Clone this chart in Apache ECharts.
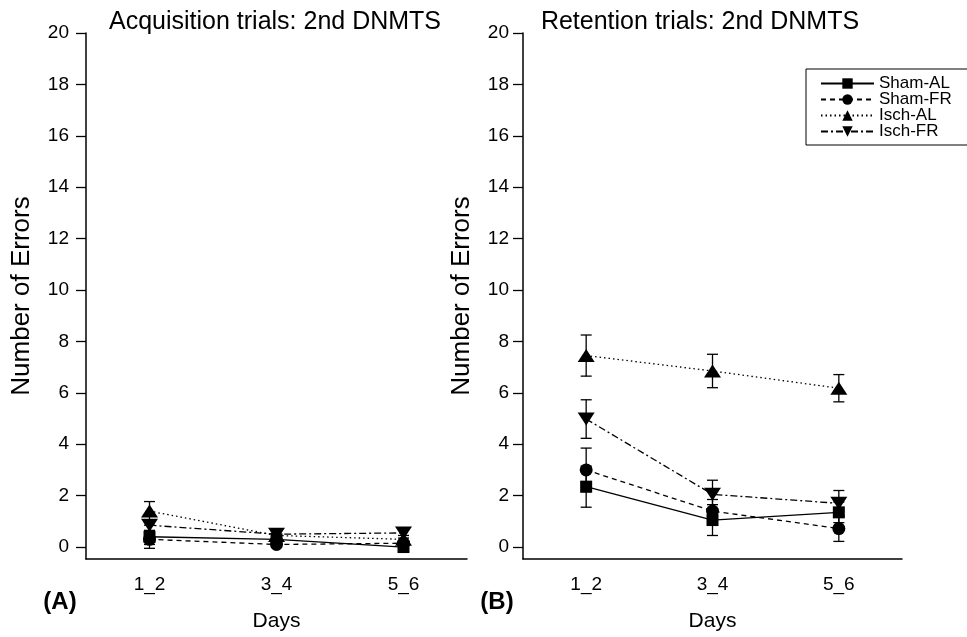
<!DOCTYPE html>
<html>
<head>
<meta charset="utf-8">
<script src="https://cdn.jsdelivr.net/npm/echarts@6/dist/echarts.min.js"></script>
<style>
  html, body { margin: 0; padding: 0; background: #fff; }
  #chart { width: 967px; height: 637px; }
</style>
</head>
<body>
<div id="chart"></div>
<script>
// Categories and tick labels
const days = ['1_2', '3_4', '5_6'];
const yTicks = [0, 2, 4, 6, 8, 10, 12, 14, 16, 18, 20];
const groupNames = ['Sham-AL', 'Sham-FR', 'Isch-AL', 'Isch-FR'];

// Acquisition trials: mean errors and error-bar half widths
const acqShamAL = [0.4, 0.3, 0.0];
const acqShamFR = [0.3, 0.1, 0.15];
const acqIschAL = [1.4, 0.45, 0.3];
const acqIschFR = [0.85, 0.5, 0.55];
const acqShamALErr = [0.45, 0.15, 0.1];
const acqShamFRErr = [0.2, 0.1, 0.1];
const acqIschALErr = [0.37, 0.15, 0.15];
const acqIschFRErr = [0.2, 0.15, 0.2];

// Retention trials: mean errors and error-bar half widths
const retShamAL = [2.35, 1.05, 1.35];
const retShamFR = [3.0, 1.4, 0.72];
const retIschAL = [7.45, 6.85, 6.18];
const retIschFR = [4.98, 2.05, 1.7];
const retShamALErr = [0.8, 0.6, 0.4];
const retShamFRErr = [0.85, 0.45, 0.5];
const retIschALErr = [0.8, 0.65, 0.53];
const retIschFRErr = [0.75, 0.55, 0.5];

const FONT = 'Liberation Sans, Arial, sans-serif';
const INK = '#000';

// Marker and line style per group
const groupStyle = [
  { symbol: 'rect', size: 12, dash: 'solid' },
  { symbol: 'circle', size: 13, dash: [5, 4] },
  { symbol: 'path://M0,13L8.5,0L17,13Z', size: [17, 13], dash: [1.5, 3] },
  { symbol: 'path://M0,0L17,0L8.5,13Z', size: [17, 13], dash: [7, 3, 2, 3] }
];

const acqMeans = [acqShamAL, acqShamFR, acqIschAL, acqIschFR];
const acqErrs = [acqShamALErr, acqShamFRErr, acqIschALErr, acqIschFRErr];
const retMeans = [retShamAL, retShamFR, retIschAL, retIschFR];
const retErrs = [retShamALErr, retShamFRErr, retIschALErr, retIschFRErr];

function errorBars(params, api) {
  const x = api.value(0), y = api.value(1), e = api.value(2);
  const hi = api.coord([x, y + e]);
  const lo = api.coord([x, y - e]);
  const w = 5.5;
  const st = { stroke: INK, lineWidth: 1.3 };
  return {
    type: 'group',
    children: [
      { type: 'line', shape: { x1: hi[0], y1: hi[1], x2: lo[0], y2: lo[1] }, style: st },
      { type: 'line', shape: { x1: hi[0] - w, y1: hi[1], x2: hi[0] + w, y2: hi[1] }, style: st },
      { type: 'line', shape: { x1: lo[0] - w, y1: lo[1], x2: lo[0] + w, y2: lo[1] }, style: st }
    ]
  };
}

function panelSeries(axisIndex, means, errs) {
  const out = [];
  means.forEach((vals, g) => {
    out.push({
      type: 'custom',
      name: groupNames[g] + ' SEM',
      xAxisIndex: axisIndex,
      yAxisIndex: axisIndex,
      renderItem: errorBars,
      encode: { x: 0, y: 1 },
      data: vals.map((v, i) => [i, v, errs[g][i]]),
      z: 2,
      silent: true
    });
  });
  means.forEach((vals, g) => {
    const s = groupStyle[g];
    out.push({
      type: 'line',
      name: groupNames[g],
      xAxisIndex: axisIndex,
      yAxisIndex: axisIndex,
      data: vals,
      symbol: s.symbol,
      symbolSize: s.size,
      showAllSymbol: true,
      lineStyle: { color: INK, width: 1.3, type: s.dash },
      itemStyle: { color: INK, borderWidth: 0 },
      z: 3,
      animation: false
    });
  });
  return out;
}

function xAxisFor(gridIndex) {
  return {
    type: 'category',
    gridIndex: gridIndex,
    data: days,
    boundaryGap: true,
    name: 'Days',
    nameLocation: 'middle',
    nameGap: 52,
    nameTextStyle: { fontFamily: FONT, fontSize: 21, color: INK },
    axisLine: { onZero: false, lineStyle: { color: INK, width: 1.5 } },
    axisTick: { alignWithLabel: true, length: 10, lineStyle: { color: INK, width: 1.3 } },
    axisLabel: { fontFamily: FONT, fontSize: 19, color: INK, margin: 16 },
    splitLine: { show: false }
  };
}

function yAxisFor(gridIndex, labelMargin, nameGap) {
  return {
    type: 'value',
    gridIndex: gridIndex,
    min: -0.465,
    max: 20,
    name: 'Number of Errors',
    nameLocation: 'middle',
    nameGap: nameGap,
    nameTextStyle: { fontFamily: FONT, fontSize: 26, color: INK },
    axisLine: { show: true, onZero: false, lineStyle: { color: INK, width: 1.5 } },
    axisTick: { show: true, length: 10, customValues: yTicks, lineStyle: { color: INK, width: 1.3 } },
    axisLabel: { fontFamily: FONT, fontSize: 19, color: INK, margin: labelMargin, customValues: yTicks },
    splitLine: { show: false }
  };
}

const chart = echarts.init(document.getElementById('chart'), null, { renderer: 'canvas' });

chart.setOption({
  backgroundColor: '#fff',
  animation: false,
  grid: [
    { left: 86, top: 33, width: 381, height: 528 },
    { left: 523, top: 33, width: 379, height: 528 }
  ],
  xAxis: [xAxisFor(0), xAxisFor(1)],
  yAxis: [yAxisFor(0, 17, 51), yAxisFor(1, 14, 48)],
  legend: {
    orient: 'vertical',
    left: 806,
    top: 69,
    data: groupNames,
    itemWidth: 53,
    itemHeight: 13,
    itemGap: -1,
    padding: [6, 60, 5, 14],
    borderColor: INK,
    borderWidth: 1,
    selectedMode: false,
    textStyle: { fontFamily: FONT, fontSize: 17, color: INK }
  },
  graphic: [
    { type: 'text', x: 275, y: 22, style: { text: 'Acquisition trials: 2nd DNMTS', fontFamily: FONT, fontSize: 25, fill: INK, align: 'center', verticalAlign: 'middle' } },
    { type: 'text', x: 700, y: 22, style: { text: 'Retention trials: 2nd DNMTS', fontFamily: FONT, fontSize: 25, fill: INK, align: 'center', verticalAlign: 'middle' } },
    { type: 'text', x: 60, y: 602, style: { text: '(A)', fontFamily: FONT, fontSize: 24, fontWeight: 'bold', fill: INK, align: 'center', verticalAlign: 'middle' } },
    { type: 'text', x: 497, y: 602, style: { text: '(B)', fontFamily: FONT, fontSize: 24, fontWeight: 'bold', fill: INK, align: 'center', verticalAlign: 'middle' } }
  ],
  series: panelSeries(0, acqMeans, acqErrs).concat(panelSeries(1, retMeans, retErrs))
});
</script>
</body>
</html>
